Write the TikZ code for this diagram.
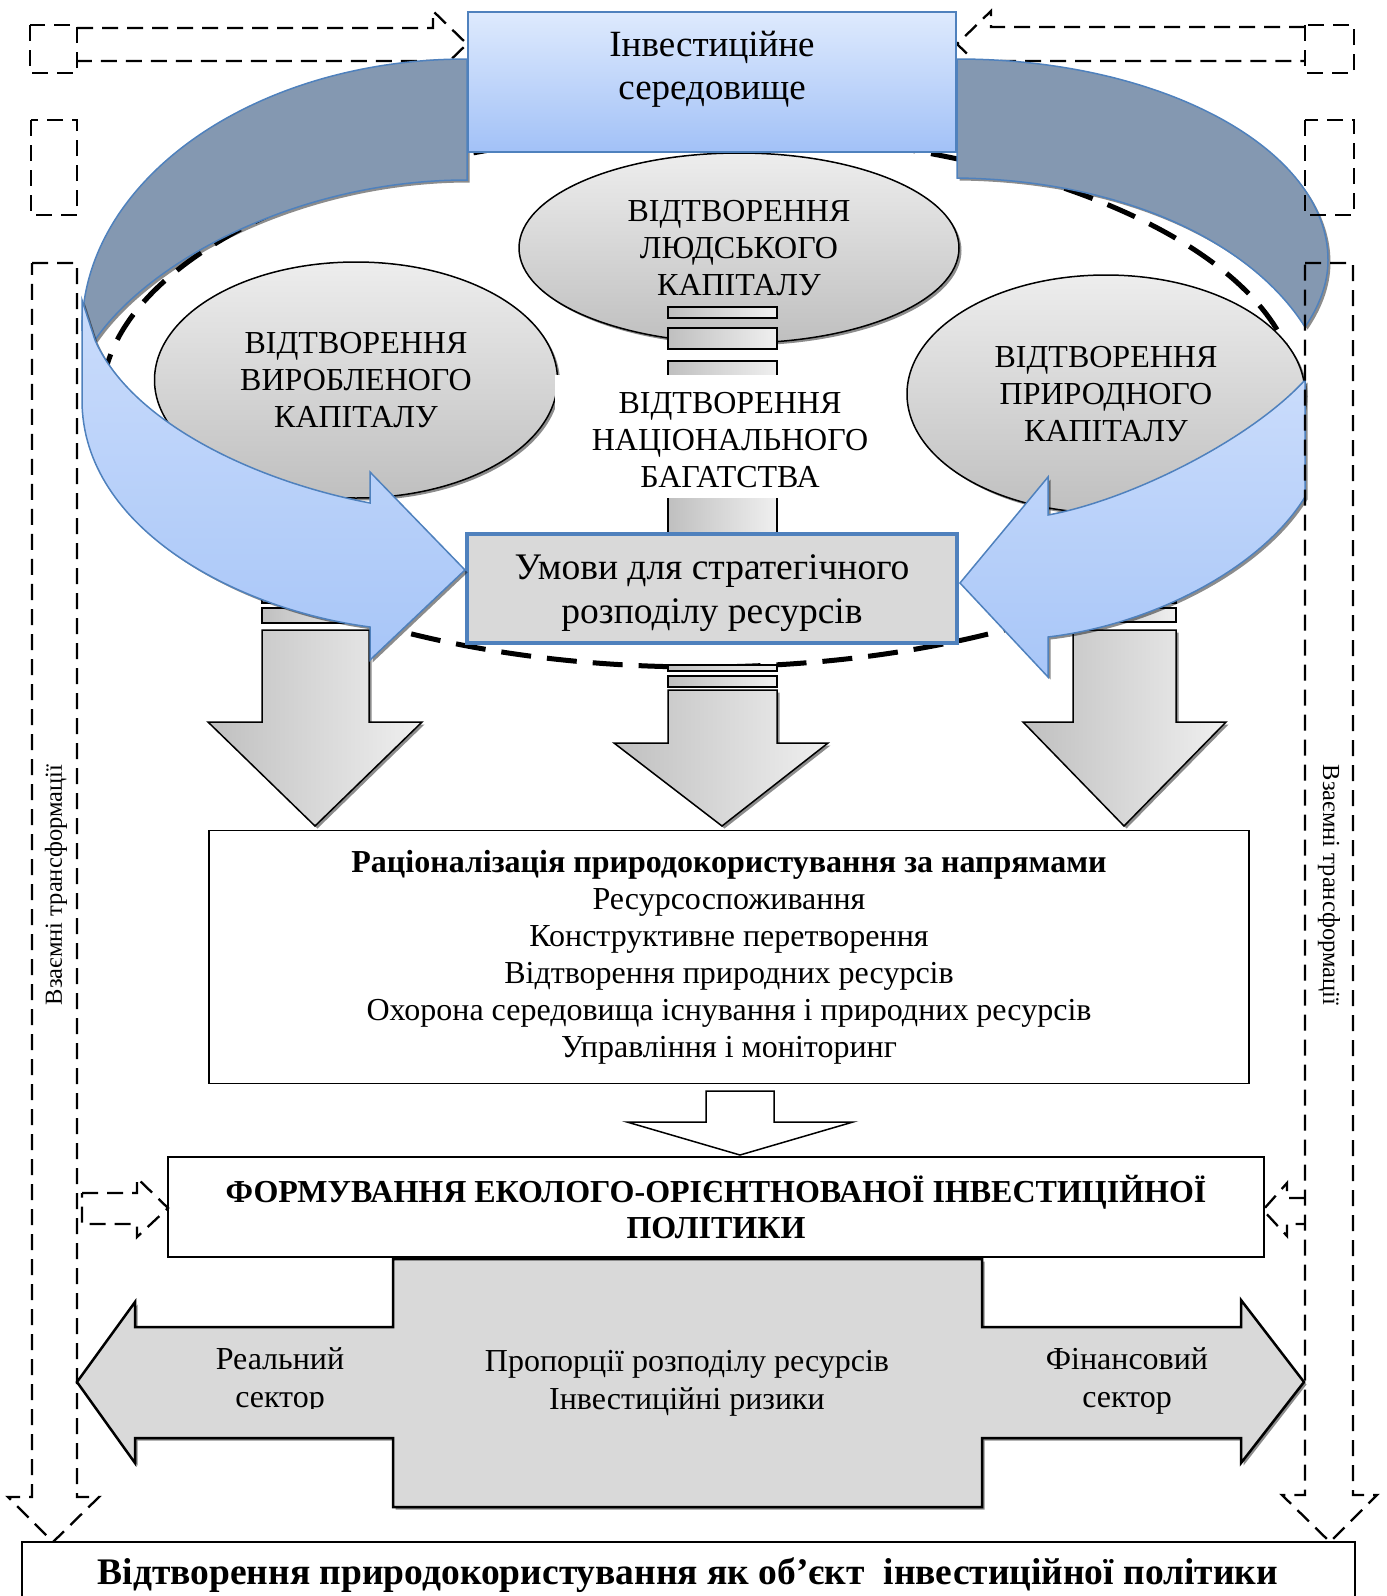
\documentclass[tikz,border=0pt]{standalone}
\usepackage{fontspec}
\setmainfont{Liberation Serif}
\usetikzlibrary{shapes.geometric,shadows}
\definecolor{frameblue}{HTML}{4F81BD}
\definecolor{bandslate}{HTML}{8498B1}
\definecolor{frontbandtop}{HTML}{CADCFB}
\definecolor{frontbandbot}{HTML}{A8C6F8}
\definecolor{envtop}{HTML}{DEEAFD}
\definecolor{envbot}{HTML}{A2C1F7}
\definecolor{panelgray}{HTML}{D9D9D9}
\newcommand\setfs[2]{\fontsize{#1}{#2}\selectfont}
\begin{document}
\begin{tikzpicture}[x=1pt,y=-1pt,
  thindash/.style={draw=black,line width=2.3pt,dash pattern=on 16pt off 9pt},
  thickdash/.style={draw=black,line width=5pt,dash pattern=on 30pt off 16pt},
  softshadow/.style={drop shadow={shadow xshift=2.5pt,shadow yshift=-2.5pt,opacity=.45,fill=black}},
  capital/.style={ellipse,draw=black,line width=1.5pt,top color=gray!14,bottom color=gray!50,
    softshadow,inner sep=0pt,align=center,font=\setfs{32}{37}},
  column/.style={draw=black,line width=1.5pt,left color=gray!50,right color=gray!12},
  backband/.style={fill=bandslate,draw=frameblue,line width=1.5pt,softshadow},
  frontband/.style={top color=frontbandtop,bottom color=frontbandbot,draw=frameblue,line width=1.5pt,softshadow},
  plainbox/.style={draw=black,line width=1.3pt,fill=white,align=center},
  caption/.style={align=center,inner sep=0pt},
]
\useasboundingbox (0,0) rectangle (1387,1596);

% thick dashed ring behind the capitals
\draw[thickdash] (700,400) ellipse [x radius=598, y radius=267];

% the three capitals
\node[capital,minimum width=403,minimum height=236] (made) at (356,380) {ВІДТВОРЕННЯ\\ВИРОБЛЕНОГО\\КАПІТАЛУ};
\node[capital,minimum width=440,minimum height=190] (human) at (739,248) {ВІДТВОРЕННЯ\\ЛЮДСЬКОГО\\КАПІТАЛУ};
\node[capital,minimum width=398,minimum height=238] (natural) at (1106,394) {ВІДТВОРЕННЯ\\ПРИРОДНОГО\\КАПІТАЛУ};

% central striped column
\path[column] (668,307) rectangle (777,318);
\path[column] (668,328) rectangle (777,349);
\path[column] (668,361) rectangle (777,533);
\path[column] (668,665) rectangle (777,671);
\path[column] (668,676) rectangle (777,687);
\path[column,softshadow] (668,690) -- (777,690) -- (777,743) -- (828,743) -- (722,826) -- (614,743) -- (668,743) -- cycle;

% left striped down arrow
\path[column] (262,596) rectangle (369,603);
\path[column] (262,608) rectangle (369,623);
\path[column,softshadow] (262,630) -- (369,630) -- (369,722) -- (422,722) -- (315,826) -- (208,722) -- (262,722) -- cycle;

% right striped down arrow
\path[column] (1073,596) rectangle (1176,603);
\path[column] (1073,608) rectangle (1176,622);
\path[column,softshadow] (1073,630) -- (1176,630) -- (1176,722) -- (1226,722) -- (1124,826) -- (1023,722) -- (1073,722) -- cycle;

% national wealth label
\node[fill=white,minimum width=350,minimum height=123] (wealthbg) at (730,436) {};
\node[caption,font=\setfs{32}{37}] (wealth) at (730,440) {ВІДТВОРЕННЯ\\НАЦІОНАЛЬНОГО\\БАГАТСТВА};

% strategic allocation box
\node[draw=frameblue,line width=4pt,fill=panelgray,minimum width=490,minimum height=109] (terms) at (712,588) {};
\node[caption,font=\setfs{37.5}{44}] (termstext) at (712,593) {Умови для стратегічного\\розподілу ресурсів};

% top dashed arrows towards the environment box
\draw[thindash] (77,28) -- (433,28) -- (433,11) -- (467,44) -- (433,77) -- (433,61) -- (77,61);
\draw[thindash] (30,25) rectangle (77,73);
\draw[thindash] (1305,27) -- (991,27) -- (991,11) -- (957,44) -- (991,77) -- (991,61) -- (1305,61);
\draw[thindash] (1305,25) rectangle (1354,73);

% curved bands: left
\path[backband] (467,59) .. controls (254,59) and (82,180) .. (82,330) -- (95,340)
  .. controls (150,260) and (300,180) .. (467,180) -- cycle;
\path[frontband] (82,300) -- (82,400) .. controls (82,530) and (240,610) .. (370,627)
  -- (370,660) -- (465,570) -- (370,472) -- (370,503)
  .. controls (250,480) and (130,420) .. (95,340) -- cycle;
% curved bands: right
\path[backband] (957,59) .. controls (1162,59) and (1328,149) .. (1328,260)
  .. controls (1328,285) and (1318,308) .. (1305,327)
  .. controls (1250,240) and (1120,180) .. (957,178) -- cycle;
\path[frontband] (1305,380) .. controls (1250,440) and (1130,500) .. (1048,515)
  -- (1048,477) -- (960,583) -- (1048,677) -- (1048,637)
  .. controls (1150,625) and (1260,570) .. (1305,497) -- cycle;

% investment environment
\node[draw=frameblue,line width=2pt,top color=envtop,bottom color=envbot,minimum width=488,minimum height=140] (env) at (712,82) {};
\node[caption,font=\setfs{37}{43}] (envtext) at (712,69) {Інвестиційне\\середовище};

% side dashed frames
\draw[thindash] (31,120) rectangle (77,215);
\draw[thindash] (1305,120) rectangle (1354,215);
\draw[thindash] (32,263) -- (77,263) -- (77,1497) -- (99,1497) -- (53,1542) -- (8,1497) -- (32,1497) -- cycle;
\draw[thindash] (1305,263) -- (1353,263) -- (1353,1495) -- (1377,1495) -- (1330,1542) -- (1282,1495) -- (1305,1495) -- cycle;
\node[rotate=90,font=\setfs{24.5}{28}] (mutualL) at (56,885) {Взаємні трансформації};
\node[rotate=-90,font=\setfs{24.5}{28}] (mutualR) at (1329,885) {Взаємні трансформації};

% rationalisation
\node[plainbox,minimum width=1040,minimum height=253,font=\setfs{32}{37}] (ration) at (729,957)
  {\textbf{Раціоналізація природокористування за напрямами}\\Ресурсоспоживання\\Конструктивне перетворення\\Відтворення природних ресурсів\\Охорона середовища існування і природних ресурсів\\Управління і моніторинг};

% hollow arrow down to the policy
\draw[line width=1.5pt,fill=white] (706,1091) -- (774,1091) -- (774,1122) -- (853,1122) -- (740,1155) -- (627,1122) -- (706,1122) -- cycle;

% policy
\node[plainbox,minimum width=1096,minimum height=100,font=\bfseries\setfs{32}{36}] (policy) at (716,1207)
  {ФОРМУВАННЯ ЕКОЛОГО-ОРІЄНТНОВАНОЇ ІНВЕСТИЦІЙНОЇ\\ПОЛІТИКИ};
\draw[thindash] (82,1193) -- (137,1193) -- (137,1178) -- (168,1208) -- (137,1237) -- (137,1224) -- (82,1224) -- cycle;
\draw[thindash] (1305,1198) -- (1287,1198) -- (1287,1183) -- (1263,1210) -- (1287,1236) -- (1287,1224) -- (1305,1224);

% double arrow of the sectors
\path[draw=black,line width=2.5pt,fill=panelgray,softshadow]
  (393,1259) -- (982,1259) -- (982,1327) -- (1241,1327) -- (1241,1300) -- (1304,1382)
  -- (1241,1463) -- (1241,1438) -- (982,1438) -- (982,1507) -- (393,1507) -- (393,1438)
  -- (135,1438) -- (135,1463) -- (77,1382) -- (135,1302) -- (135,1327) -- (393,1327) -- cycle;
\begin{scope}
  \clip (140,1320) rectangle (390,1408);
  \node[caption,font=\setfs{32}{38}] (real) at (280,1381) {Реальний\\сектор};
\end{scope}
\node[caption,font=\setfs{32}{38}] (fin) at (1127,1381) {Фінансовий\\сектор};
\node[caption,font=\setfs{32}{38}] (prop) at (687,1383) {Пропорції розподілу ресурсів\\Інвестиційні ризики};

% object of the policy
\draw[line width=1.3pt,fill=white] (22,1620) -- (22,1542) -- (1355,1542) -- (1355,1620);
\node[caption,font=\bfseries\setfs{37.5}{40}] (object) at (688,1575) {Відтворення природокористування як об’єкт\ \ інвестиційної політики};
\end{tikzpicture}
\end{document}
